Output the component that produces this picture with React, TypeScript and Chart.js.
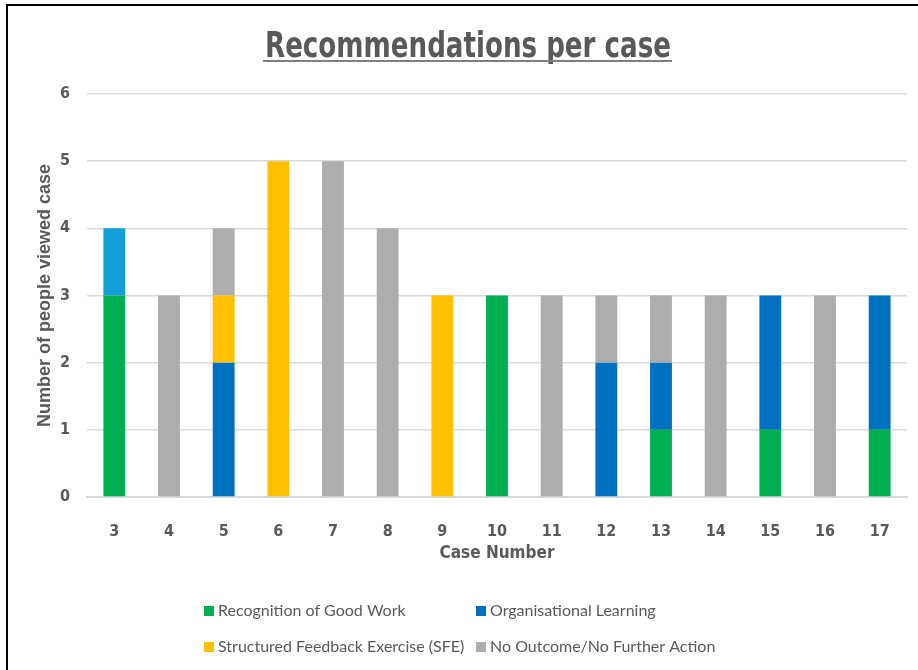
import React, { useEffect, useRef } from "react";
import { Chart, registerables } from "chart.js";

Chart.register(...registerables);

const categories = ["3", "4", "5", "6", "7", "8", "9", "10", "11", "12", "13", "14", "15", "16", "17"];
const recognition = [3, 0, 0, 0, 0, 0, 0, 3, 0, 0, 1, 0, 1, 0, 1];
const otherBlue = [1, 0, 0, 0, 0, 0, 0, 0, 0, 0, 0, 0, 0, 0, 0];
const organisational = [0, 0, 2, 0, 0, 0, 0, 0, 0, 2, 1, 0, 2, 0, 2];
const sfe = [0, 0, 1, 5, 0, 0, 3, 0, 0, 0, 0, 0, 0, 0, 0];
const noOutcome = [0, 3, 1, 0, 5, 4, 0, 0, 3, 1, 1, 3, 0, 3, 0];
const yTicks = [0, 1, 2, 3, 4, 5, 6];

const TITLE = "Recommendations per case";
const TEXT = "#595959";
const NARROW = "'Liberation Sans Narrow', 'DejaVu Sans Condensed', 'Liberation Sans', sans-serif";

const titlePlugin = {
  id: "ulTitle",
  afterDraw(chart: any) {
    const ctx = chart.ctx;
    ctx.save();
    ctx.font = `bold 35px ${NARROW}`;
    ctx.fillStyle = TEXT;
    ctx.textAlign = "center";
    ctx.textBaseline = "alphabetic";
    const x = 468;
    const y = 57;
    const targetW = 406;
    const w = ctx.measureText(TITLE).width;
    const sx = targetW / w;
    ctx.save();
    ctx.translate(x, y);
    ctx.scale(sx, 1);
    ctx.fillText(TITLE, 0, 0);
    ctx.restore();
    ctx.strokeStyle = "#7f7f7f";
    ctx.lineWidth = 2;
    ctx.beginPath();
    ctx.moveTo(x - targetW / 2 - 2, y + 4);
    ctx.lineTo(x + targetW / 2 + 1, y + 4);
    ctx.stroke();
    ctx.restore();
  },
};

const legendPlugin = {
  id: "gridLegend",
  afterDraw(chart: any) {
    const ctx = chart.ctx;
    const items = chart.data.datasets.filter((d: any) => d.inLegend);
    const cols = [204, 476];
    const rows = [611, 647];
    ctx.save();
    ctx.font = `16px Lato, 'Open Sans', sans-serif`;
    ctx.textBaseline = "middle";
    ctx.textAlign = "left";
    items.forEach((d: any, i: number) => {
      const cx = cols[i % 2];
      const cy = rows[Math.floor(i / 2)];
      ctx.fillStyle = d.backgroundColor;
      ctx.fillRect(cx, cy - 5, 10, 10);
      ctx.fillStyle = TEXT;
      ctx.fillText(d.label, cx + 14, cy);
    });
    ctx.restore();
  },
};

export default function App() {
  const ref = useRef<HTMLCanvasElement>(null);
  useEffect(() => {
    if (!ref.current) return;
    const common = { barPercentage: 0.4, categoryPercentage: 1, borderWidth: 0 };
    const chart = new Chart(ref.current, {
      type: "bar",
      data: {
        labels: categories,
        datasets: [
          { label: "Recognition of Good Work", data: recognition, backgroundColor: "#00b050", inLegend: true, ...common } as any,
          { label: "Organisational Learning", data: organisational, backgroundColor: "#0070c0", inLegend: true, ...common } as any,
          { label: "Structured Feedback Exercise (SFE)", data: sfe, backgroundColor: "#ffc000", inLegend: true, ...common } as any,
          { label: "No Outcome/No Further Action", data: noOutcome, backgroundColor: "#adadad", inLegend: true, ...common } as any,
          { label: "Other", data: otherBlue, backgroundColor: "#139fd9", inLegend: false, ...common } as any,
        ],
      },
      options: {
        responsive: false,
        animation: false,
        devicePixelRatio: 1,
        layout: { padding: { left: 0, top: 94, right: 11, bottom: 98 } },
        plugins: {
          legend: { display: false },
          title: { display: false },
          tooltip: { enabled: false },
        },
        scales: {
          x: {
            stacked: true,
            grid: { display: false, drawTicks: false },
            border: { display: true, color: "#d9d9d9", width: 2 },
            ticks: { color: TEXT, padding: 25, font: { family: NARROW, size: 16, weight: "bold" } },
            title: {
              display: true,
              text: "Case Number",
              color: TEXT,
              font: { family: NARROW, size: 17, weight: "bold" },
              padding: { top: 0, bottom: 8 },
            },
            afterFit: (s: any) => { s.height = 75; },
          },
          y: {
            stacked: true,
            min: 0,
            max: 6,
            afterBuildTicks: (s: any) => { s.ticks = yTicks.map((v) => ({ value: v })); },
            grid: { color: "#d9d9d9", lineWidth: 1.5, drawTicks: false },
            border: { display: false },
            ticks: { color: TEXT, padding: 17, font: { family: NARROW, size: 16, weight: "bold" } },
            title: {
              display: true,
              text: "Number of people viewed case",
              color: TEXT,
              font: { family: "'Liberation Sans', Arial, sans-serif", size: 18, weight: "bold" },
              padding: { top: 34, bottom: 0 },
            },
            afterFit: (s: any) => { s.width = 87; },
          },
        },
      } as any,
      plugins: [titlePlugin, legendPlugin],
    });
    return () => chart.destroy();
  }, []);

  return (
    <div style={{ position: "fixed", left: 0, top: 0, width: 918, height: 670, background: "#fff", overflow: "hidden" }}>
      <canvas ref={ref} width={918} height={670} style={{ position: "absolute", left: 0, top: 0, width: 918, height: 670 }} />
      <div
        style={{
          position: "absolute",
          left: 6,
          top: 4,
          width: 1000,
          height: 1000,
          borderTop: "2px solid #000",
          borderLeft: "2px solid #000",
          pointerEvents: "none",
        }}
      />
    </div>
  );
}
